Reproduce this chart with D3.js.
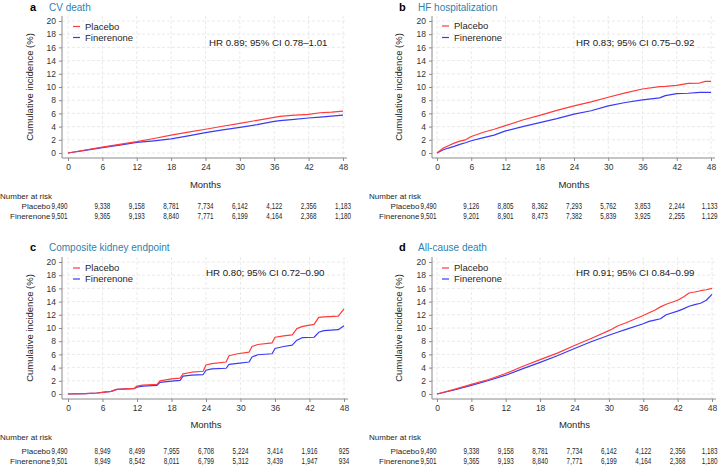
<!DOCTYPE html>
<html><head><meta charset="utf-8">
<script src="https://cdn.jsdelivr.net/npm/d3@7/dist/d3.min.js"></script>
<style>
html,body{margin:0;padding:0;background:#fff;}
svg{display:block;font-family:"Liberation Sans",Arial,sans-serif;}
</style></head>
<body><svg id="chart" width="720" height="466"></svg>
<script>
// ---- shared ticks ----
const monthTicks = [0,6,12,18,24,30,36,42,48];
const yTicks = [0,2,4,6,8,10,12,14,16,18,20];
const seriesNames = ["Placebo","Finerenone"];
const panelLetters = ["a","b","c","d"];
const panelTitles = ["CV death","HF hospitalization","Composite kidney endpoint","All-cause death"];
const hrLabels = ["HR 0.89; 95% CI 0.78\u20131.01","HR 0.83; 95% CI 0.75\u20130.92","HR 0.80; 95% CI 0.72\u20130.90","HR 0.91; 95% CI 0.84\u20130.99"];

// ---- panel a: CV death ----
const cvMonths = [0,3,6,9,12,15,18,21,24,27,30,33,36,37,39,42,44,46,48];
const cvPlacebo = [0,0.45,0.88,1.3,1.72,2.2,2.7,3.15,3.6,4.05,4.5,4.95,5.4,5.55,5.7,5.85,6.1,6.2,6.35];
const cvFinerenone = [0,0.4,0.82,1.2,1.6,1.85,2.15,2.6,3.1,3.5,3.88,4.3,4.78,4.9,5.05,5.3,5.45,5.6,5.75];
const cvRiskPlacebo = [9490,9338,9158,8781,7734,6142,4122,2356,1183];
const cvRiskFinerenone = [9501,9365,9193,8840,7771,6199,4164,2368,1180];

// ---- panel b: HF hospitalization ----
const hfMonths = [0,1,2,3,4,5,6,8,10,12,15,18,21,24,27,30,33,36,39,40,42,44,46,47,48];
const hfPlacebo = [0,0.7,1.1,1.5,1.8,2.0,2.5,3.1,3.6,4.15,5.0,5.7,6.45,7.15,7.75,8.45,9.1,9.7,10.05,10.1,10.25,10.55,10.6,10.85,10.85];
const hfFinerenone = [0,0.45,0.75,1.0,1.3,1.55,1.85,2.3,2.7,3.35,4.0,4.6,5.2,5.9,6.4,7.15,7.65,8.05,8.35,8.7,9.0,9.05,9.2,9.2,9.2];
const hfRiskPlacebo = [9490,9126,8805,8362,7293,5762,3853,2244,1133];
const hfRiskFinerenone = [9501,9201,8901,8473,7382,5839,3925,2255,1129];

// ---- panel c: composite kidney endpoint ----
const kidMonths = [0,3,5,6,7.5,8.5,11.5,12,13,15.5,16,18,19.5,20,21.5,23.5,24,25,27.5,28,29.5,31.5,32,33,35.5,36,37.5,39,39.8,40.8,42.8,43.6,44.5,47,48];
const kidPlacebo = [0,0.05,0.15,0.25,0.4,0.7,0.85,1.2,1.35,1.45,2.0,2.3,2.4,3.05,3.3,3.45,4.4,4.6,4.85,5.8,6.1,6.35,7.2,7.5,7.75,8.6,8.8,8.95,9.9,10.25,10.55,11.6,11.7,11.8,12.9];
const kidFinerenone = [0,0.05,0.15,0.25,0.4,0.7,0.8,1.05,1.2,1.3,1.75,1.95,2.05,2.7,2.85,2.95,3.6,3.8,3.9,4.5,4.65,4.85,5.6,5.95,6.1,6.9,7.2,7.4,8.15,8.55,8.6,9.35,9.6,9.75,10.35];
const kidRiskPlacebo = [9490,8949,8499,7955,6708,5224,3414,1916,925];
const kidRiskFinerenone = [9501,8949,8542,8011,6799,5312,3439,1947,934];

// ---- panel d: all-cause death ----
const acdMonths = [0,3,6,9,12,15,18,21,24,27,30,30.5,31.5,33,36,37,38,39,40,42,43,44,45,46,47,48];
const acdPlacebo = [0,0.7,1.45,2.2,3.1,4.2,5.2,6.2,7.35,8.45,9.6,9.8,10.3,10.8,11.9,12.3,12.7,13.2,13.6,14.2,14.7,15.3,15.45,15.65,15.8,16.0];
const acdFinerenone = [0,0.6,1.3,2.05,2.85,3.85,4.8,5.8,6.9,7.95,8.9,9.05,9.35,9.8,10.65,11.0,11.2,11.4,12.0,12.55,12.9,13.3,13.55,13.75,14.2,15.1];
const acdRiskPlacebo = [9490,9338,9158,8781,7734,6142,4122,2356,1183];
const acdRiskFinerenone = [9501,9365,9193,8840,7771,6199,4164,2368,1180];

const colors = {"Placebo":"#ff3a3a","Finerenone":"#3a3af5"};
const titleColor = "#2f7fae";
const textColor = "#262626";

const panels = [
  {months:cvMonths, pla:cvPlacebo, fin:cvFinerenone, rp:cvRiskPlacebo, rf:cvRiskFinerenone,
   x0:68, x1:343, yb:153, yt:21, left:62, bottom:158, titleY:10.5, legY:[26.5,37.5], hr:[209,42],
   rows:[187.5,198.5,209,219]},
  {months:hfMonths, pla:hfPlacebo, fin:hfFinerenone, rp:hfRiskPlacebo, rf:hfRiskFinerenone,
   x0:437, x1:711, yb:153, yt:21, left:432, bottom:158, titleY:10.5, legY:[26,37.5], hr:[576,42],
   rows:[187.5,198.5,209,219]},
  {months:kidMonths, pla:kidPlacebo, fin:kidFinerenone, rp:kidRiskPlacebo, rf:kidRiskFinerenone,
   x0:68, x1:344, yb:394, yt:262, left:62, bottom:399, titleY:250.5, legY:[268,279], hr:[206,272],
   rows:[427.5,440,453.5,463.8]},
  {months:acdMonths, pla:acdPlacebo, fin:acdFinerenone, rp:acdRiskPlacebo, rf:acdRiskFinerenone,
   x0:437, x1:712, yb:394, yt:262, left:432, bottom:399, titleY:250.5, legY:[268,279], hr:[576,272],
   rows:[427.5,440,453.5,463.8]}
];

const svg = d3.select("#chart");
const fmt = d3.format(",");

panels.forEach((p,i)=>{
  const g = svg.append("g");
  const x = d3.scaleLinear().domain([0,48]).range([p.x0,p.x1]);
  const y = d3.scaleLinear().domain([0,20]).range([p.yb,p.yt]);
  const right = p.x1+4, top = p.yt-5;

  // gridlines
  g.append("g").selectAll("line.vg").data(monthTicks).join("line")
    .attr("x1",d=>x(d)).attr("x2",d=>x(d)).attr("y1",top).attr("y2",p.bottom)
    .attr("stroke","#e4e4e4").attr("stroke-dasharray","3,2").attr("stroke-width",0.8);
  g.append("g").selectAll("line.hg").data(yTicks).join("line")
    .attr("x1",p.left).attr("x2",right).attr("y1",d=>y(d)).attr("y2",d=>y(d))
    .attr("stroke","#e4e4e4").attr("stroke-dasharray","3,2").attr("stroke-width",0.8);

  // axes
  const xa = g.append("g").attr("transform",`translate(0,${p.bottom})`)
    .call(d3.axisBottom(x).tickValues(monthTicks).tickSize(3).tickPadding(2.5));
  const ya = g.append("g").attr("transform",`translate(${p.left},0)`)
    .call(d3.axisLeft(y).tickValues(yTicks).tickSize(3).tickPadding(3));
  [xa,ya].forEach(a=>{
    a.select(".domain").remove();
    a.selectAll(".tick line").attr("stroke","#8a8a8a");
    a.selectAll(".tick text").attr("fill","#333").style("font-size","8.5px");
  });
  g.append("line").attr("x1",p.left).attr("x2",right).attr("y1",p.bottom).attr("y2",p.bottom).attr("stroke","#8a8a8a");
  g.append("line").attr("x1",p.left).attr("x2",p.left).attr("y1",top).attr("y2",p.bottom).attr("stroke","#8a8a8a");

  // lines
  const line = d3.line().x(d=>x(d[0])).y(d=>y(d[1]));
  [["Finerenone",p.fin],["Placebo",p.pla]].forEach(([name,vals])=>{
    g.append("path").datum(p.months.map((m,k)=>[m,vals[k]]))
      .attr("d",line).attr("fill","none").attr("stroke",colors[name]).attr("stroke-width",1.2)
      .attr("stroke-linejoin","round");
  });

  // title
  g.append("text").attr("x",p.x0-38).attr("y",p.titleY).text(panelLetters[i])
    .style("font-weight","bold").style("font-size","11px").attr("fill","#000");
  g.append("text").attr("x",p.x0-19).attr("y",p.titleY).text(panelTitles[i])
    .style("font-size","10px").attr("fill",titleColor);

  // y label
  g.append("text").attr("transform",`translate(${p.x0-35},${(p.yb+p.yt)/2}) rotate(-90)`)
    .attr("text-anchor","middle").text("Cumulative incidence (%)")
    .style("font-size","9.5px").attr("fill",textColor);

  // legend
  seriesNames.forEach((n,k)=>{
    g.append("line").attr("x1",p.x0+5).attr("x2",p.x0+12).attr("y1",p.legY[k]).attr("y2",p.legY[k])
      .attr("stroke",colors[n]).attr("stroke-width",1.2);
    g.append("text").attr("x",p.x0+17).attr("y",p.legY[k]+3.4).text(n)
      .style("font-size","9.5px").attr("fill",textColor);
  });

  // HR
  g.append("text").attr("x",p.hr[0]).attr("y",p.hr[1]+3.5).text(hrLabels[i])
    .style("font-size","9.7px").attr("fill","#1a1a1a");

  // Months label
  g.append("text").attr("x",(p.x0+p.x1)/2).attr("y",p.rows[0]).attr("text-anchor","middle")
    .text("Months").style("font-size","9.5px").attr("fill",textColor);

  // risk table
  g.append("text").attr("x",p.x0-68).attr("y",p.rows[1]).text("Number at risk")
    .style("font-size","8px").attr("fill",textColor);
  const sx = 0.76;
  [[seriesNames[0],p.rp,p.rows[2]],[seriesNames[1],p.rf,p.rows[3]]].forEach(([n,vals,ry])=>{
    g.append("text").attr("x",p.x0-17.5).attr("y",ry).attr("text-anchor","end").text(n)
      .style("font-size","8px").attr("fill",textColor);
    g.append("g").selectAll("text").data(vals).join("text")
      .attr("x",0).attr("y",0).attr("text-anchor","middle").text(d=>fmt(d))
      .style("font-size","8.3px").attr("fill",textColor)
      .each(function(d,k){
        const w = this.getComputedTextLength()*sx;
        let cx = k===0 ? x(monthTicks[k])-8.5 : x(monthTicks[k]);
        cx = Math.min(cx, 717.5 - w/2);
        d3.select(this).attr("transform",`translate(${cx},${ry}) scale(${sx},1)`);
      });
  });
});
</script></body></html>
